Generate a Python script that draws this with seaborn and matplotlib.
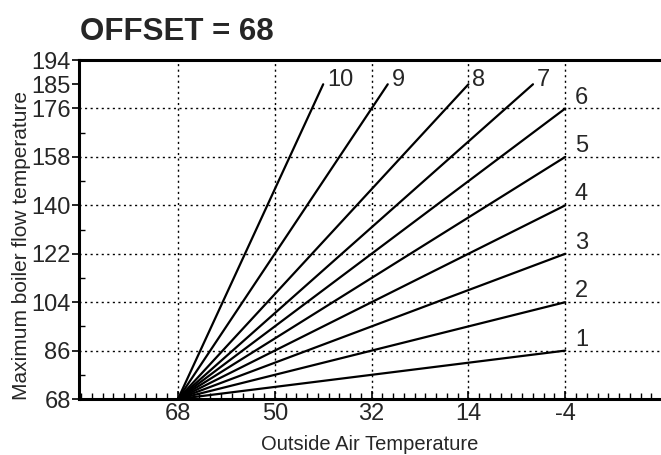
import pandas as pd
import numpy as np
import matplotlib
matplotlib.use("Agg")
import matplotlib.pyplot as plt
from matplotlib.ticker import MultipleLocator, FixedLocator
import seaborn as sns

# data
curves = ["1", "2", "3", "4", "5", "6", "7", "8", "9", "10"]
start_x = 68
start_y = 68
end_x = [-4, -4, -4, -4, -4, -4, 2, 14, 29, 41]
end_y = [86, 104, 122, 140, 158, 176, 185, 185, 185, 185]
x_ticks = [68, 50, 32, 14, -4]
x_labels = ["68", "50", "32", "14", "-4"]
y_ticks = [68, 86, 104, 122, 140, 158, 176, 185, 194]

rows = []
for c, ex, ey in zip(curves, end_x, end_y):
    rows.append({"curve": c, "x": start_x, "y": start_y})
    rows.append({"curve": c, "x": ex, "y": ey})
df = pd.DataFrame(rows)

sns.set_style("white")
plt.rcParams["font.family"] = ["Liberation Sans", "DejaVu Sans"]

fig = plt.figure(figsize=(6.61, 4.55), dpi=100)
ax = fig.add_axes([0.1195, 0.123, 0.8805, 0.745])

sns.lineplot(data=df, x="x", y="y", units="curve", estimator=None,
             color="black", linewidth=1.6, ax=ax, legend=False)

# curve numbers
for c, ex, ey in zip(curves, end_x, end_y):
    if ex == -4:
        ax.text(ex - 1.8, ey + 1.8, c, fontsize=17, ha="left", va="baseline")
    else:
        ax.text(ex - 0.7, ey - 0.8, c, fontsize=17, ha="left", va="baseline")

ax.set_xlim(86.4, -21.8)
ax.set_ylim(68, 194)
ax.set_xticks(x_ticks)
ax.set_xticklabels(x_labels)
ax.set_yticks(y_ticks)
ax.xaxis.set_minor_locator(MultipleLocator(2))
ax.yaxis.set_minor_locator(FixedLocator([77, 95, 113, 131, 149, 167]))

ax.grid(True, which="major", color="black", linestyle=(0, (1.5, 2.5)), linewidth=1)
for gl, t in zip(ax.get_ygridlines(), y_ticks):
    if t in (185, 194, 68):
        gl.set_visible(False)

ax.tick_params(axis="x", which="major", bottom=True, direction="in", length=6, width=1.2,
               labelsize=17, pad=3, color="black")
ax.tick_params(axis="x", which="minor", bottom=True, direction="in", length=4, width=1.0,
               color="black")
ax.tick_params(axis="y", which="major", left=True, direction="out", length=5, width=1.2,
               labelsize=17, pad=1, color="black")
ax.tick_params(axis="y", which="minor", left=True, direction="in", length=4, width=1.0,
               color="black")

for s in ["left", "bottom", "top"]:
    ax.spines[s].set_color("black")
    ax.spines[s].set_linewidth(2.2)
ax.spines["right"].set_visible(False)

ax.set_xlabel("Outside Air Temperature", fontsize=14.5)
ax.set_ylabel("Maximum boiler flow temperature", fontsize=15)
ax.xaxis.set_label_coords(0.5, -0.105)
ax.yaxis.set_label_coords(-0.083, 0.454)

fig.text(0.121, 0.93, "OFFSET = 68", fontsize=22.5, fontweight="bold",
         ha="left", va="center")

fig.savefig("out.png", dpi=100)
